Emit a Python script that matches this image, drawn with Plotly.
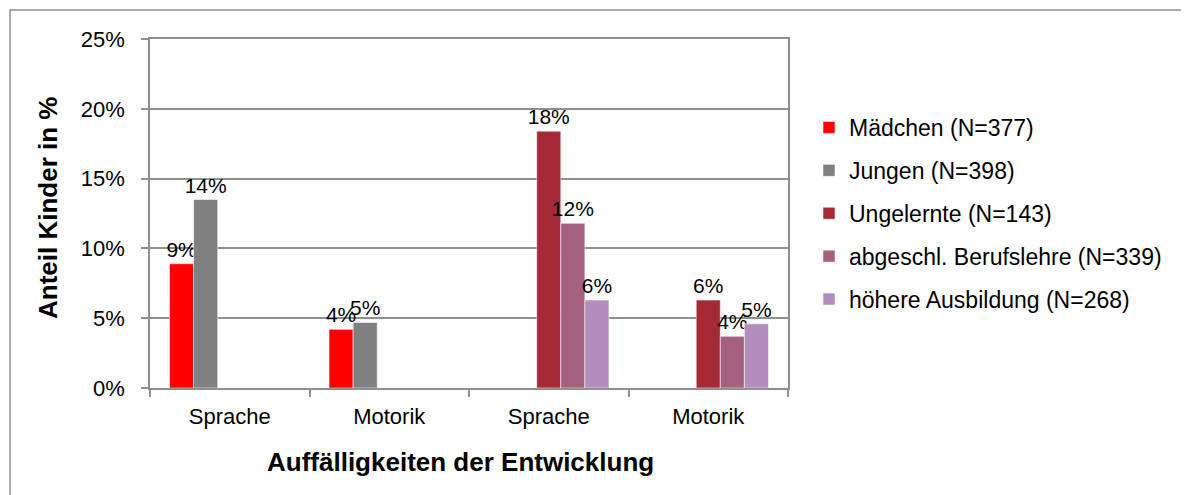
import plotly.graph_objects as go

# Kategorien (zwei Gruppen: Geschlecht / Ausbildung der Eltern)
categories = ["Sprache", "Motorik", "Sprache", "Motorik"]

series_names = [
    "Mädchen (N=377)",
    "Jungen (N=398)",
    "Ungelernte (N=143)",
    "abgeschl. Berufslehre (N=339)",
    "höhere Ausbildung (N=268)",
]

# Anteil Kinder in %
maedchen = [8.9, 4.2, None, None]
jungen = [13.5, 4.7, None, None]
ungelernte = [None, None, 18.4, 6.3]
berufslehre = [None, None, 11.8, 3.7]
hoehere = [None, None, 6.3, 4.6]

series_values = [maedchen, jungen, ungelernte, berufslehre, hoehere]
colors = ["#FF0000", "#808080", "#A52A37", "#A5607E", "#B38DBB"]

FONT = "Liberation Sans, Arial, sans-serif"
GRID = "#8f8f8f"

# page offset (default body margin of the html page)
OFF = 8
W, H = 1189, 495
# plot area in page pixels: x 150..788, y 39..388
pw, ph = 788 - 150, 388 - 39
L, T = 150 - OFF, 39 - OFF
R, B = W - L - pw, H - T - ph


def px_x(x):
    # page pixel -> paper coordinate
    return (x - OFF - L) / pw


def px_y(y):
    return (T + ph - (y - OFF)) / ph


x_pos = list(range(len(categories)))

fig = go.Figure()
for name, vals, col in zip(series_names, series_values, colors):
    fig.add_trace(go.Bar(
        x=x_pos,
        y=vals,
        name=name,
        legendgroup=name,
        marker=dict(color=col, line=dict(color="rgba(255,255,255,0.55)", width=1)),
        texttemplate="%{y:.0f}%",
        textposition="outside",
        constraintext="none",
        cliponaxis=False,
        textfont=dict(family=FONT, size=21, color="black"),
        hoverinfo="skip",
    ))

fig.update_layout(
    width=W,
    height=H,
    margin=dict(l=L, r=R, t=T, b=B),
    paper_bgcolor="white",
    plot_bgcolor="white",
    barmode="group",
    bargap=0.245,
    bargroupgap=0,
    font=dict(family=FONT, size=22, color="black"),
    showlegend=True,
    legend=dict(
        x=px_x(809), xanchor="left",
        y=0.5, yanchor="middle",
        font=dict(family=FONT, size=23, color="black"),
        tracegroupgap=10,
        bgcolor="rgba(0,0,0,0)",
    ),
    xaxis=dict(
        range=[-0.5, len(categories) - 0.5],
        tickvals=x_pos,
        ticktext=categories,
        ticks="",
        ticklabelstandoff=8,
        showgrid=False,
        zeroline=False,
        showline=True,
        linecolor=GRID,
        linewidth=1.5,
        mirror=True,
        minor=dict(
            tickvals=[i - 0.5 for i in range(len(categories) + 1)],
            ticks="outside",
            ticklen=7,
            tickwidth=1.5,
            tickcolor=GRID,
            showgrid=False,
        ),
        tickfont=dict(family=FONT, size=22, color="black"),
    ),
    yaxis=dict(
        range=[0, 25],
        dtick=5,
        ticksuffix="%",
        ticks="outside",
        ticklen=7,
        tickwidth=1.5,
        tickcolor=GRID,
        ticklabelstandoff=12,
        showgrid=True,
        gridcolor=GRID,
        gridwidth=1.5,
        zeroline=False,
        showline=True,
        linecolor=GRID,
        linewidth=1.5,
        mirror=True,
        tickfont=dict(family=FONT, size=22, color="black"),
    ),
    annotations=[
        dict(
            text="<b>Anteil Kinder in %</b>",
            xref="paper", yref="paper",
            x=px_x(48), y=px_y(208),
            xanchor="center", yanchor="middle",
            textangle=-90, showarrow=False,
            font=dict(family=FONT, size=26, color="black"),
        ),
        dict(
            text="<b>Auffälligkeiten der Entwicklung</b>",
            xref="paper", yref="paper",
            x=px_x(460), y=px_y(462),
            xanchor="center", yanchor="middle",
            showarrow=False,
            font=dict(family=FONT, size=26, color="black"),
        ),
    ],
    shapes=[
        dict(
            type="rect", xref="paper", yref="paper",
            x0=px_x(10), x1=px_x(W + 20),
            y0=px_y(H + 20), y1=px_y(10),
            line=dict(color=GRID, width=1.5),
            layer="below",
        ),
    ],
)

fig.write_html("out.html")
